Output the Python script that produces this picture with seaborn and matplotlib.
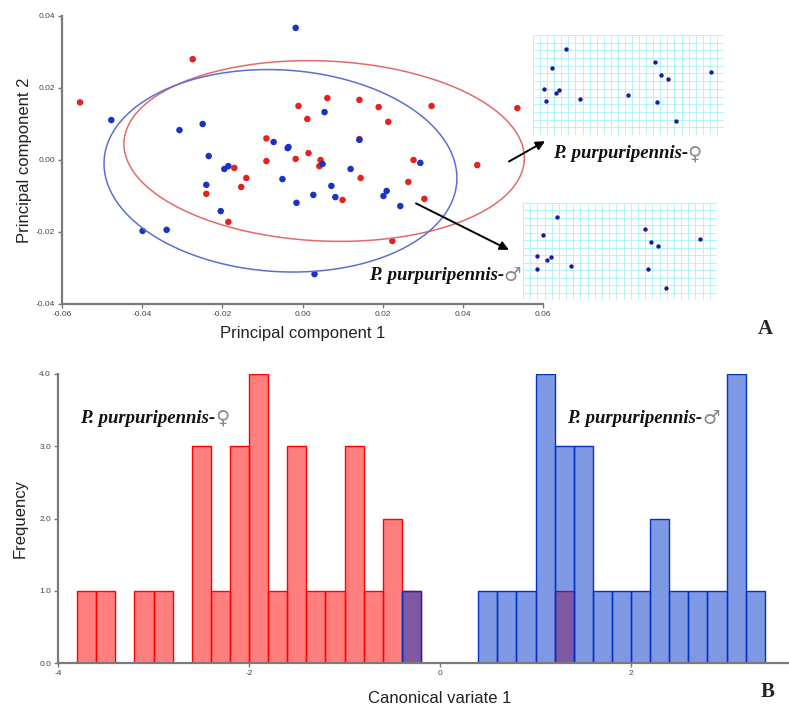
import numpy as np
import pandas as pd
import matplotlib
matplotlib.use("Agg")
import matplotlib.pyplot as plt
import seaborn as sns

# %% data: PCA scores (panel A)
female_pc1 = [-0.0555, -0.0274, -0.0010, -0.0090, -0.0090, -0.0017, -0.0170, -0.0140,
              -0.0153, -0.0240, -0.0185, 0.0062, 0.0142, 0.0190, 0.0012, 0.0214,
              0.0322, 0.0536, 0.0142, 0.0015, 0.0045, 0.0042, 0.0277, 0.0436,
              0.0145, 0.0264, 0.0100, 0.0304, 0.0224]
female_pc2 = [0.0160, 0.0280, 0.0150, 0.0060, -0.0003, 0.0003, -0.0022, -0.0050,
              -0.0075, -0.0094, -0.0172, 0.0172, 0.0167, 0.0147, 0.0114, 0.0106,
              0.0150, 0.0144, 0.0058, 0.0019, 0.0000, -0.0017, 0.0000, -0.0014,
              -0.0050, -0.0061, -0.0111, -0.0108, -0.0225]
male_pc1 = [-0.0017, -0.0477, -0.0307, -0.0249, -0.0234, -0.0195, -0.0185, -0.0072,
            -0.0035, -0.0050, -0.0240, -0.0015, -0.0204, -0.0399, -0.0339, 0.0055,
            -0.0037, 0.0142, 0.0050, 0.0120, 0.0294, 0.0072, 0.0027, 0.0082,
            0.0210, 0.0202, 0.0244, 0.0030]
male_pc2 = [0.0367, 0.0111, 0.0083, 0.0100, 0.0011, -0.0025, -0.0017, 0.0050,
            0.0036, -0.0053, -0.0069, -0.0119, -0.0142, -0.0197, -0.0194, 0.0133,
            0.0033, 0.0056, -0.0011, -0.0025, -0.0008, -0.0072, -0.0097, -0.0103,
            -0.0086, -0.0100, -0.0128, -0.0317]

# 95% ellipses: centre x, centre y, semi-axis a, semi-axis b, angle (deg)
female_ellipse = (0.0054, 0.0025, 0.0500, 0.0250, -3.0)
male_ellipse = (-0.0055, -0.0030, 0.0441, 0.0280, -4.4)

# landmark configurations on deformation grids (normalised)
grid_female_x = [0.173, 0.099, 0.058, 0.068, 0.120, 0.136, 0.246, 0.497, 0.639, 0.670, 0.707, 0.932, 0.649, 0.749]
grid_female_y = [0.860, 0.670, 0.460, 0.340, 0.420, 0.450, 0.360, 0.400, 0.730, 0.600, 0.560, 0.630, 0.330, 0.140]
grid_male_x = [0.175, 0.103, 0.072, 0.072, 0.124, 0.144, 0.247, 0.629, 0.660, 0.696, 0.912, 0.644, 0.737]
grid_male_y = [0.856, 0.670, 0.454, 0.320, 0.412, 0.443, 0.350, 0.732, 0.598, 0.557, 0.629, 0.320, 0.124]

# %% data: canonical variate histogram (panel B)
bin_edges = [round(-3.8 + 0.2 * i, 1) for i in range(37)]
female_bins = [-3.7, -3.5, -3.1, -2.9, -2.5, -2.3, -2.1, -1.9, -1.7, -1.5, -1.3, -1.1,
               -0.9, -0.7, -0.5, -0.3, 1.3]
female_counts = [1, 1, 1, 1, 3, 1, 3, 4, 1, 3, 1, 1, 3, 1, 2, 1, 1]
male_bins = [-0.3, 0.5, 0.7, 0.9, 1.1, 1.3, 1.5, 1.7, 1.9, 2.1, 2.3, 2.5, 2.7, 2.9, 3.1, 3.3]
male_counts = [1, 1, 1, 1, 4, 3, 3, 1, 1, 1, 2, 1, 1, 1, 4, 1]

species_name = "P. purpuripennis-"
female_sign = "\u2640"
male_sign = "\u2642"

# %%
sns.set_theme(style="ticks")
plt.rcParams["font.family"] = ["Liberation Sans", "DejaVu Sans"]
species_font = dict(family=["Liberation Serif", "DejaVu Sans"], style="italic",
                    weight="bold", size=13.5, color="#111111")


def species_text(axis, x, y, sign):
    txt = axis.text(x, y, species_name, ha="left", va="center", clip_on=False, **species_font)
    axis.annotate(sign, xy=(1, 0.5), xycoords=txt, ha="left", va="center",
                  family="DejaVu Sans", fontsize=14, color="#8a8a8a",
                  annotation_clip=False)


fig = plt.figure(figsize=(7.89, 7.06), dpi=100)

df_pca = pd.DataFrame({
    "pc1": female_pc1 + male_pc1,
    "pc2": female_pc2 + male_pc2,
    "sex": ["female"] * len(female_pc1) + ["male"] * len(male_pc1),
})

ax = fig.add_axes([62 / 789, 1 - 304 / 706, 481 / 789, 288 / 706])
ax.set_xlim(-0.06, 0.06)
ax.set_ylim(-0.04, 0.04)

t = np.linspace(0, 2 * np.pi, 300)
for (cx, cy, a, b, ang), col in [(female_ellipse, "#e36a6a"), (male_ellipse, "#5c6fcf")]:
    th = np.deg2rad(ang)
    ex = cx + a * np.cos(t) * np.cos(th) - b * np.sin(t) * np.sin(th)
    ey = cy + a * np.cos(t) * np.sin(th) + b * np.sin(t) * np.cos(th)
    ax.plot(ex, ey, color=col, lw=1.1)

sns.scatterplot(data=df_pca, x="pc1", y="pc2", hue="sex", hue_order=["male", "female"],
                palette={"female": "#e2231f", "male": "#1a33c4"}, s=22,
                linewidth=0, legend=False, ax=ax)

ax.set_xticks([-0.06, -0.04, -0.02, 0.00, 0.02, 0.04, 0.06])
ax.set_yticks([-0.04, -0.02, 0.00, 0.02, 0.04])
ax.set_xticklabels(["-0.06", "-0.04", "-0.02", "0.00", "0.02", "0.04", "0.06"])
ax.set_yticklabels(["-0.04", "-0.02", "0.00", "0.02", "0.04"])
ax.set_xlabel("Principal component 1", fontsize=12, color="#222222", labelpad=6)
ax.set_ylabel("Principal component 2", fontsize=12, color="#222222", labelpad=3)

ax.annotate("", xy=(0.0611, 0.0056), xytext=(0.0509, -0.0008),
            arrowprops=dict(arrowstyle="-|>", color="black", lw=1.4, mutation_scale=13),
            annotation_clip=False)
ax.annotate("", xy=(0.0521, -0.0253), xytext=(0.0277, -0.0117),
            arrowprops=dict(arrowstyle="-|>", color="black", lw=1.4, mutation_scale=13),
            annotation_clip=False)
species_text(ax, 0.0624, 0.0017, female_sign)
species_text(ax, 0.0165, -0.0322, male_sign)

# deformation grids
for pos, gx, gy in [([533 / 789, 1 - 135 / 706, 191 / 789, 100 / 706], grid_female_x, grid_female_y),
                    ([523 / 789, 1 - 300 / 706, 194 / 789, 97 / 706], grid_male_x, grid_male_y)]:
    gax = fig.add_axes(pos)
    gax.set_xlim(0, 1)
    gax.set_ylim(0, 1)
    gax.set_facecolor("none")
    for v in np.linspace(0, 1, 28):
        gax.axvline(v, color="#a8f2f6", lw=0.6, zorder=1)
    for h in np.linspace(0, 1, 14):
        gax.axhline(h, color="#a8f2f6", lw=0.6, zorder=1)
    sns.scatterplot(x=gx, y=gy, color="#1a1aa0", s=10, linewidth=0, zorder=3, ax=gax)
    gax.set_xticks([])
    gax.set_yticks([])
    for sp in gax.spines.values():
        sp.set_visible(False)

# %% panel B
bx = fig.add_axes([58 / 789, 43 / 706, 764 / 789, 289 / 706])
sns.histplot(x=female_bins, weights=female_counts, bins=bin_edges, color="#ff0000",
             edgecolor="#ff0000", alpha=0.5, linewidth=1.0, ax=bx)
sns.histplot(x=male_bins, weights=male_counts, bins=bin_edges, color="#0032c8",
             edgecolor="#0032c8", alpha=0.5, linewidth=1.0, ax=bx)
bx.set_xlim(-4, 4)
bx.set_ylim(0, 4)
bx.set_xticks([-4, -2, 0, 2])
bx.set_xticklabels(["-4", "-2", "0", "2"])
bx.set_yticks([0, 1, 2, 3, 4])
bx.set_yticklabels(["0.0", "1.0", "2.0", "3.0", "4.0"])
bx.set_xlabel("Canonical variate 1", fontsize=12, color="#222222", labelpad=10)
bx.set_ylabel("Frequency", fontsize=12, color="#222222", labelpad=8)
species_text(bx, -3.77, 3.39, female_sign)
species_text(bx, 1.33, 3.39, male_sign)

for a_ in (ax, bx):
    sns.despine(ax=a_)
    for sp in ("left", "bottom"):
        a_.spines[sp].set_color("#7a7a7a")
        a_.spines[sp].set_linewidth(1.6)
    a_.tick_params(labelsize=6, colors="#7a7a7a", labelcolor="#444444",
                   length=3, width=1, pad=2)

fig.text(765 / 789, 1 - 329 / 706, "A", ha="center", va="center",
         family="Liberation Serif", weight="bold", fontsize=15)
fig.text(768 / 789, 1 - 692 / 706, "B", ha="center", va="center",
         family="Liberation Serif", weight="bold", fontsize=15)

fig.savefig("out.png", dpi=100)
